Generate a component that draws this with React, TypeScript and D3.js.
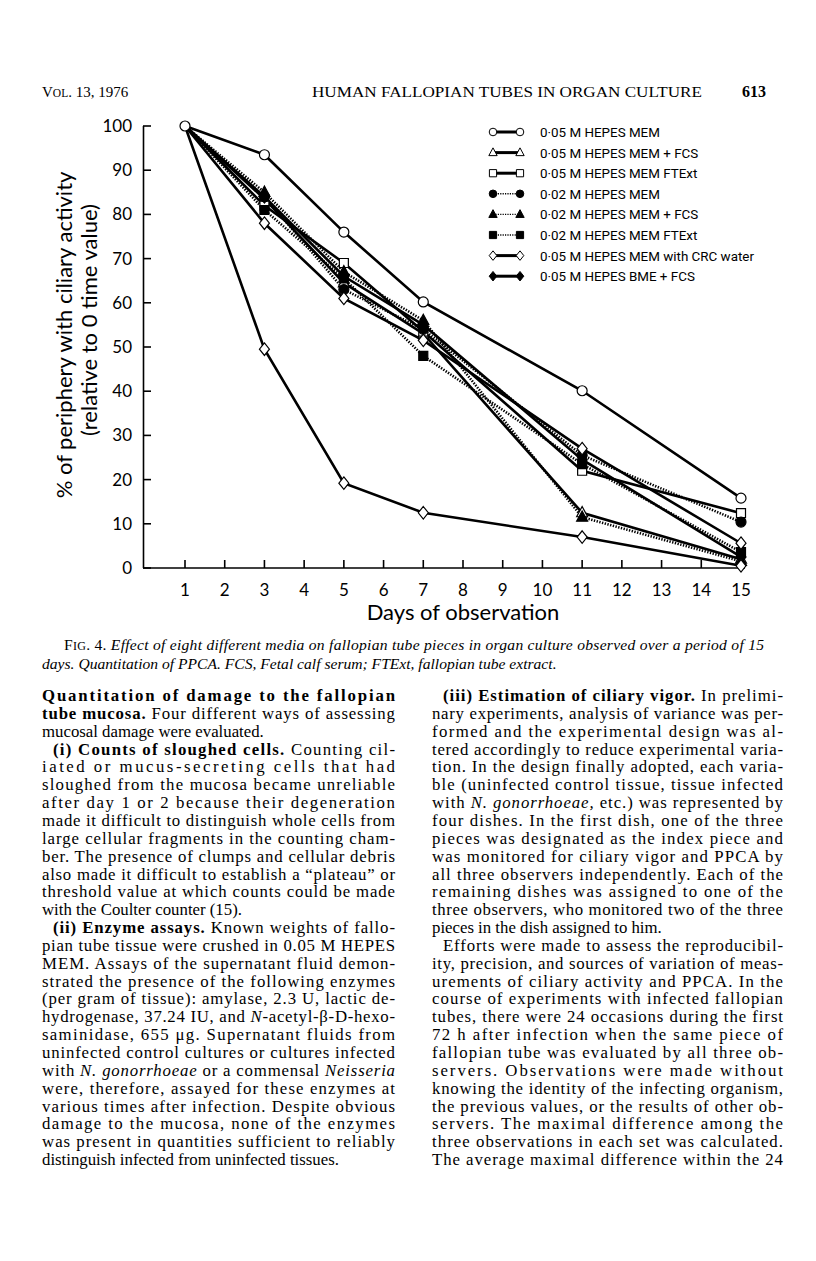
import React from 'react';
import * as d3 from 'd3';

// days on which ciliary activity was scored
const days = [1, 3, 5, 7, 11, 15];
const xTicks = d3.range(1, 16);
const yTicks = d3.range(0, 101, 10);

const seriesLabels = [
  '0·05 M HEPES MEM',
  '0·05 M HEPES MEM + FCS',
  '0·05 M HEPES MEM FTExt',
  '0·02 M HEPES MEM',
  '0·02 M HEPES MEM + FCS',
  '0·02 M HEPES MEM FTExt',
  '0·05 M HEPES MEM with CRC water',
  '0·05 M HEPES BME + FCS',
];

// % of periphery with ciliary activity
const hepes05Mem = [100, 93.5, 76, 60.2, 40.1, 15.8];
const hepes05MemFcs = [100, 83.5, 64.5, 53, 12.5, 2];
const hepes05MemFtext = [100, 82, 69, 53.5, 22, 12.4];
const hepes02Mem = [100, 84, 63, 54, 25.5, 10.4];
const hepes02MemFcs = [100, 85, 67, 56, 11.5, 1.5];
const hepes02MemFtext = [100, 81, 65.5, 48, 23.5, 3.6];
const hepes05CrcWater = [100, 49.5, 19.2, 12.5, 7, 0.5];
const hepes05BmeFcs = [100, 84, 66, 55, 24.5, 2.5];
// second open-diamond trace drawn in the figure (no separate legend entry)
const hepes05CrcWaterB = [100, 78, 61, 51.5, 27, 5.6];

type Marker = 'circle' | 'triangle' | 'square' | 'diamond';
interface Series { values: number[]; marker: Marker; filled: boolean; dotted: boolean; }

const series: Series[] = [
  { values: hepes05MemFcs, marker: 'triangle', filled: false, dotted: false },
  { values: hepes05MemFtext, marker: 'square', filled: false, dotted: false },
  { values: hepes02Mem, marker: 'circle', filled: true, dotted: true },
  { values: hepes02MemFcs, marker: 'triangle', filled: true, dotted: true },
  { values: hepes02MemFtext, marker: 'square', filled: true, dotted: true },
  { values: hepes05BmeFcs, marker: 'diamond', filled: true, dotted: false },
  { values: hepes05CrcWaterB, marker: 'diamond', filled: false, dotted: false },
  { values: hepes05CrcWater, marker: 'diamond', filled: false, dotted: false },
  { values: hepes05Mem, marker: 'circle', filled: false, dotted: false },
];

const legendStyles: { marker: Marker; filled: boolean; dotted: boolean }[] = [
  { marker: 'circle', filled: false, dotted: false },
  { marker: 'triangle', filled: false, dotted: false },
  { marker: 'square', filled: false, dotted: false },
  { marker: 'circle', filled: true, dotted: true },
  { marker: 'triangle', filled: true, dotted: true },
  { marker: 'square', filled: true, dotted: true },
  { marker: 'diamond', filled: false, dotted: false },
  { marker: 'diamond', filled: true, dotted: false },
];

const leftLines = [
  '**Quantitation of damage to the fallopian**',
  '**tube mucosa.** Four different ways of assessing',
  'mucosal damage were evaluated.',
  '**(i) Counts of sloughed cells.** Counting cil-',
  'iated or mucus-secreting cells that had',
  'sloughed from the mucosa became unreliable',
  'after day 1 or 2 because their degeneration',
  'made it difficult to distinguish whole cells from',
  'large cellular fragments in the counting cham-',
  'ber. The presence of clumps and cellular debris',
  'also made it difficult to establish a “plateau” or',
  'threshold value at which counts could be made',
  'with the Coulter counter (15).',
  '**(ii) Enzyme assays.** Known weights of fallo-',
  'pian tube tissue were crushed in 0.05 M HEPES',
  'MEM. Assays of the supernatant fluid demon-',
  'strated the presence of the following enzymes',
  '(per gram of tissue): amylase, 2.3 U, lactic de-',
  'hydrogenase, 37.24 IU, and *N*-acetyl-β-D-hexo-',
  'saminidase, 655 μg. Supernatant fluids from',
  'uninfected control cultures or cultures infected',
  'with *N. gonorrhoeae* or a commensal *Neisseria*',
  'were, therefore, assayed for these enzymes at',
  'various times after infection. Despite obvious',
  'damage to the mucosa, none of the enzymes',
  'was present in quantities sufficient to reliably',
  'distinguish infected from uninfected tissues.',
];
const leftIndent = [3, 13];
const leftEnds = [2, 12, 26];

const rightLines = [
  '**(iii) Estimation of ciliary vigor.** In prelimi-',
  'nary experiments, analysis of variance was per-',
  'formed and the experimental design was al-',
  'tered accordingly to reduce experimental varia-',
  'tion. In the design finally adopted, each varia-',
  'ble (uninfected control tissue, tissue infected',
  'with *N. gonorrhoeae,* etc.) was represented by',
  'four dishes. In the first dish, one of the three',
  'pieces was designated as the index piece and',
  'was monitored for ciliary vigor and PPCA by',
  'all three observers independently. Each of the',
  'remaining dishes was assigned to one of the',
  'three observers, who monitored two of the three',
  'pieces in the dish assigned to him.',
  'Efforts were made to assess the reproducibil-',
  'ity, precision, and sources of variation of meas-',
  'urements of ciliary activity and PPCA. In the',
  'course of experiments with infected fallopian',
  'tubes, there were 24 occasions during the first',
  '72 h after infection when the same piece of',
  'fallopian tube was evaluated by all three ob-',
  'servers. Observations were made without',
  'knowing the identity of the infecting organism,',
  'the previous values, or the results of other ob-',
  'servers. The maximal difference among the',
  'three observations in each set was calculated.',
  'The average maximal difference within the 24',
];
const rightIndent = [0, 14];
const rightEnds = [13];

const x = d3.scaleLinear().domain([1, 15]).range([185, 741]);
const y = d3.scaleLinear().domain([0, 100]).range([568, 126]);

const markerPath = (m: Marker, s: number) => {
  if (m === 'circle') return d3.symbol(d3.symbolCircle, Math.PI * s * s)()!;
  if (m === 'square') return `M${-s},${-s}H${s}V${s}H${-s}Z`;
  if (m === 'triangle') return `M0,${-s * 1.25}L${s * 1.1},${s * 0.8}L${-s * 1.1},${s * 0.8}Z`;
  return `M0,${-s * 1.25}L${s},0L0,${s * 1.25}L${-s},0Z`;
};

const chartFont = 'Lato, "DejaVu Sans", sans-serif';
const legendFont = '"Liberation Sans Narrow", Roboto, "Liberation Sans", sans-serif';
const bodyFont = '"Liberation Serif", "DejaVu Serif", serif';

const renderRich = (s: string) =>
  s.split(/(\*\*[^*]+\*\*|\*[^*]+\*)/).filter(p => p !== '').map((p, i) => {
    if (p.startsWith('**')) return <tspan key={i} fontWeight="bold">{p.slice(2, -2)}</tspan>;
    if (p.startsWith('*')) return <tspan key={i} fontStyle="italic">{p.slice(1, -1)}</tspan>;
    return <tspan key={i}>{p}</tspan>;
  });

const Column = ({ lines, x0, width, indent, ends }: { lines: string[]; x0: number; width: number; indent: number[]; ends: number[] }) => (
  <g fontFamily={bodyFont} fontSize={16.8}>
    {lines.map((l, i) => {
      const ind = indent.includes(i) ? 11 : 0;
      const justify = !ends.includes(i);
      return (
        <text key={i} x={x0 + ind} y={701 + i * 17.85}
          textLength={justify ? width - ind : undefined}
          lengthAdjust={justify ? 'spacing' : undefined}>
          {renderRich(l)}
        </text>
      );
    })}
  </g>
);

const Chart = () => {
  const line = d3.line<number>().x((_, i) => x(days[i])).y(v => y(v));
  return (
    <g>
      {/* axes */}
      <line x1={143.5} x2={143.5} y1={126} y2={568} stroke="#000" strokeWidth={1.6} />
      <line x1={143} x2={745} y1={568} y2={568} stroke="#000" strokeWidth={1.6} />
      {yTicks.map(t => (
        <g key={t}>
          <line x1={143} x2={151} y1={y(t)} y2={y(t)} stroke="#000" strokeWidth={1.6} />
          <text x={132} y={y(t) + 6} textAnchor="end" fontFamily={chartFont} fontSize={17}>{t}</text>
        </g>
      ))}
      {xTicks.map(t => (
        <g key={t}>
          <line x1={x(t)} x2={x(t)} y1={568} y2={560} stroke="#000" strokeWidth={1.6} />
          <text x={x(t)} y={596} textAnchor="middle" fontFamily={chartFont} fontSize={17}>{t}</text>
        </g>
      ))}
      <text x={463} y={620} textAnchor="middle" fontFamily={chartFont} fontSize={22}>Days of observation</text>
      <text transform="translate(72,335) rotate(-90)" textAnchor="middle" fontFamily={chartFont} fontSize={22}>
        % of periphery with ciliary activity
      </text>
      <text transform="translate(97,320) rotate(-90)" textAnchor="middle" fontFamily={chartFont} fontSize={22}>
        (relative to 0 time value)
      </text>

      {/* series lines */}
      {series.map((s, k) => (
        <path key={k} d={line(s.values)!} fill="none" stroke="#000"
          strokeWidth={2.6}
          strokeDasharray={s.dotted ? '1.4,1.4' : undefined} />
      ))}
      {/* markers (day 1 is shared; only the open circle shows there) */}
      {series.map((s, k) =>
        s.values.map((v, i) => {
          if (i === 0 && !(s.marker === 'circle' && !s.filled)) return null;
          return (
            <path key={`${k}-${i}`} d={markerPath(s.marker, s.marker === 'square' ? 4.5 : 5)}
              transform={`translate(${x(days[i])},${y(v)})`}
              fill={s.filled ? '#000' : '#fff'} stroke="#000" strokeWidth={1.2} />
          );
        })
      )}

      {/* legend */}
      {seriesLabels.map((lab, i) => {
        const ly = 132 + i * 20.6;
        const st = legendStyles[i];
        return (
          <g key={lab}>
            <line x1={493} x2={520} y1={ly} y2={ly} stroke="#000"
              strokeWidth={st.dotted ? 1.4 : 3} strokeDasharray={st.dotted ? '1.2,1.2' : undefined} />
            {[493, 520].map(mx => (
              <path key={mx} d={markerPath(st.marker, st.marker === 'square' ? 3.6 : 3.8)}
                transform={`translate(${mx},${ly})`}
                fill={st.filled ? '#000' : '#fff'} stroke="#000" strokeWidth={1} />
            ))}
            <text x={540} y={ly + 5} fontFamily={legendFont} fontSize={13.4}>{lab}</text>
          </g>
        );
      })}
    </g>
  );
};

const App = () => (
  <svg width={816} height={1261} viewBox="0 0 816 1261"
    style={{ position: 'absolute', left: 0, top: 0, background: '#fff' }}>
    <rect width={816} height={1261} fill="#fff" />
    {/* running head */}
    <text x={42} y={97} fontFamily={bodyFont} fontSize={15}>
      V<tspan fontSize={11.5}>OL</tspan>. 13, 1976
    </text>
    <text x={312} y={97} fontFamily={bodyFont} fontSize={15} textLength={390} lengthAdjust="spacingAndGlyphs">
      HUMAN FALLOPIAN TUBES IN ORGAN CULTURE
    </text>
    <text x={742} y={97} fontFamily={bodyFont} fontSize={16} fontWeight="bold">613</text>

    <Chart />

    {/* caption */}
    <text x={64} y={650} fontFamily={bodyFont} fontSize={15.6} textLength={700} lengthAdjust="spacing">
      <tspan>F</tspan><tspan fontSize={12}>IG</tspan><tspan>. 4. </tspan>
      <tspan fontStyle="italic">Effect of eight different media on fallopian tube pieces in organ culture observed over a period of 15</tspan>
    </text>
    <text x={42} y={669} fontFamily={bodyFont} fontSize={15.6} fontStyle="italic">
      days. Quantitation of PPCA. FCS, Fetal calf serum; FTExt, fallopian tube extract.
    </text>

    <Column lines={leftLines} x0={42} width={353} indent={leftIndent} ends={leftEnds} />
    <Column lines={rightLines} x0={432} width={351} indent={rightIndent} ends={rightEnds} />
  </svg>
);

export default App;
